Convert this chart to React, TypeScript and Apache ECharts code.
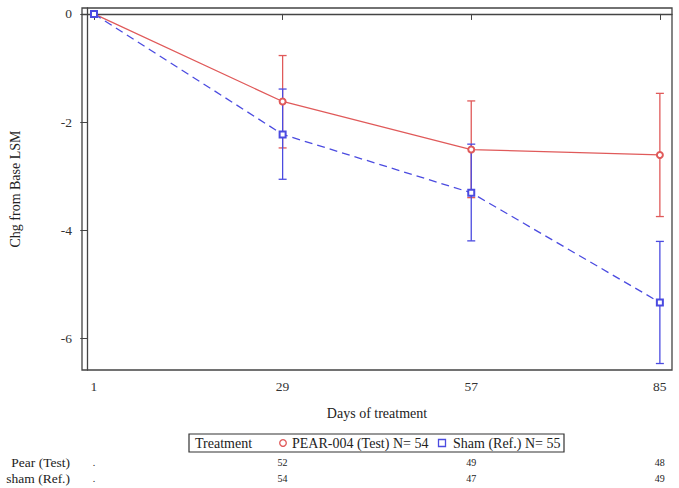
import React, { useEffect, useRef } from "react";
import * as echarts from "echarts";

const days = [1, 29, 57, 85];
const pearMean = [0, -1.62, -2.51, -2.61];
const pearLow = [null, -2.48, -3.4, -3.75];
const pearHigh = [null, -0.77, -1.61, -1.47];
const shamMean = [0, -2.23, -3.31, -5.34];
const shamLow = [null, -3.06, -4.2, -6.47];
const shamHigh = [null, -1.39, -2.41, -4.21];
const yTicks = [0, -2, -4, -6];
const pearN = [".", "52", "49", "48"];
const shamN = [".", "54", "47", "49"];
const rowLabels = ["Pear (Test)", "sham (Ref.)"];
const legendTitle = "Treatment";
const pearName = "PEAR-004 (Test) N= 54";
const shamName = "Sham (Ref.) N= 55";

const RED = "#e05a5a";
const BLUE = "#4b4be0";
const FONT = "Liberation Serif";

function errorSeries(name: string, low: (number | null)[], high: (number | null)[], color: string) {
  const data = days
    .map((d, i) => [d, low[i], high[i]])
    .filter((r) => r[1] !== null && r[2] !== null);
  return {
    type: "custom",
    name,
    data,
    z: 3,
    renderItem: (params: any, api: any) => {
      const x = api.value(0);
      const lo = api.coord([x, api.value(1)]);
      const hi = api.coord([x, api.value(2)]);
      const hw = 4;
      const style = { stroke: color, lineWidth: 1.3 };
      return {
        type: "group",
        children: [
          { type: "line", shape: { x1: lo[0], y1: lo[1], x2: hi[0], y2: hi[1] }, style },
          { type: "line", shape: { x1: lo[0] - hw, y1: lo[1], x2: lo[0] + hw, y2: lo[1] }, style },
          { type: "line", shape: { x1: hi[0] - hw, y1: hi[1], x2: hi[0] + hw, y2: hi[1] }, style },
        ],
      };
    },
  };
}

function tableSeries(values: string[], yPix: number) {
  return {
    type: "custom",
    data: days.map((d, i) => [d, values[i]]),
    clip: false,
    silent: true,
    renderItem: (params: any, api: any) => {
      const i = params.dataIndex;
      const p = api.coord([days[i], 0]);
      return {
        type: "text",
        x: p[0],
        y: yPix,
        style: {
          text: values[i],
          fontFamily: FONT,
          fontSize: 10,
          fill: "#222",
          align: "center",
          verticalAlign: "middle",
        },
      };
    },
  };
}

export default function App() {
  const ref = useRef<HTMLDivElement>(null);
  useEffect(() => {
    if (!ref.current) return;
    const chart = echarts.init(ref.current, undefined, { renderer: "svg" });
    const axisLine = { lineStyle: { color: "#444", width: 1.3 } };
    chart.setOption({
      animation: false,
      backgroundColor: "#fff",
      textStyle: { fontFamily: FONT },
      grid: {
        left: 81,
        top: 8,
        right: 7,
        bottom: 118,
        show: true,
        borderColor: "#444",
        borderWidth: 1.3,
        backgroundColor: "transparent",
      },
      xAxis: {
        type: "value",
        min: -0.78,
        max: 86.8,
        name: "Days of treatment",
        nameLocation: "middle",
        nameGap: 36,
        nameTextStyle: { fontFamily: FONT, fontSize: 14, color: "#222" },
        axisLine,
        splitLine: { show: false },
        axisTick: { show: true, length: 6, customValues: days, lineStyle: { color: "#444" } },
        axisLabel: {
          customValues: days,
          fontFamily: FONT,
          fontSize: 13.5,
          color: "#333",
          margin: 9,
        },
      },
      yAxis: {
        type: "value",
        min: -6.59,
        max: 0.11,
        name: "Chg from Base LSM",
        nameLocation: "middle",
        nameGap: 60,
        nameTextStyle: { fontFamily: FONT, fontSize: 14, color: "#222" },
        axisLine,
        splitLine: { show: false },
        axisTick: { show: true, length: 7, customValues: yTicks, lineStyle: { color: "#444" } },
        axisLabel: {
          customValues: yTicks,
          fontFamily: FONT,
          fontSize: 13.5,
          color: "#333",
          margin: 10,
        },
      },
      series: [
        errorSeries("pearErr", pearLow, pearHigh, RED),
        errorSeries("shamErr", shamLow, shamHigh, BLUE),
        {
          type: "line",
          name: pearName,
          data: days.map((d, i) => [d, pearMean[i]]),
          symbol: "emptyCircle",
          symbolSize: 6,
          lineStyle: { color: RED, width: 1.3 },
          itemStyle: { color: RED, borderColor: RED, borderWidth: 1.2 },
          z: 4,
        },
        {
          type: "line",
          name: shamName,
          data: days.map((d, i) => [d, shamMean[i]]),
          symbol: "emptyRect",
          symbolSize: 6,
          lineStyle: { color: BLUE, width: 1.3, type: [8, 5] },
          itemStyle: { color: BLUE, borderColor: BLUE, borderWidth: 1.2 },
          z: 4,
        },
        tableSeries(pearN, 462),
        tableSeries(shamN, 478),
      ],
      graphic: [
        {
          type: "rect",
          shape: { x: 189, y: 434, width: 375, height: 18 },
          style: { fill: "#fff", stroke: "#333", lineWidth: 1.2 },
        },
        {
          type: "text",
          x: 195,
          y: 443,
          style: { text: legendTitle, fontFamily: FONT, fontSize: 14, fill: "#222", verticalAlign: "middle" },
        },
        {
          type: "circle",
          shape: { cx: 283, cy: 443, r: 3.3 },
          style: { fill: "none", stroke: RED, lineWidth: 1.3 },
        },
        {
          type: "text",
          x: 292,
          y: 443,
          style: { text: pearName, fontFamily: FONT, fontSize: 14, fill: "#222", verticalAlign: "middle" },
        },
        {
          type: "rect",
          shape: { x: 438.5, y: 439.5, width: 7, height: 7 },
          style: { fill: "none", stroke: BLUE, lineWidth: 1.3 },
        },
        {
          type: "text",
          x: 453,
          y: 443,
          style: { text: shamName, fontFamily: FONT, fontSize: 14, fill: "#222", verticalAlign: "middle" },
        },
        {
          type: "text",
          x: 70,
          y: 462,
          style: { text: rowLabels[0], fontFamily: FONT, fontSize: 13.5, fill: "#222", align: "right", verticalAlign: "middle" },
        },
        {
          type: "text",
          x: 70,
          y: 478,
          style: { text: rowLabels[1], fontFamily: FONT, fontSize: 13.5, fill: "#222", align: "right", verticalAlign: "middle" },
        },
      ],
    });
    return () => chart.dispose();
  }, []);
  return <div ref={ref} style={{ position: "fixed", left: 0, top: 0, width: 679, height: 488 }} />;
}
